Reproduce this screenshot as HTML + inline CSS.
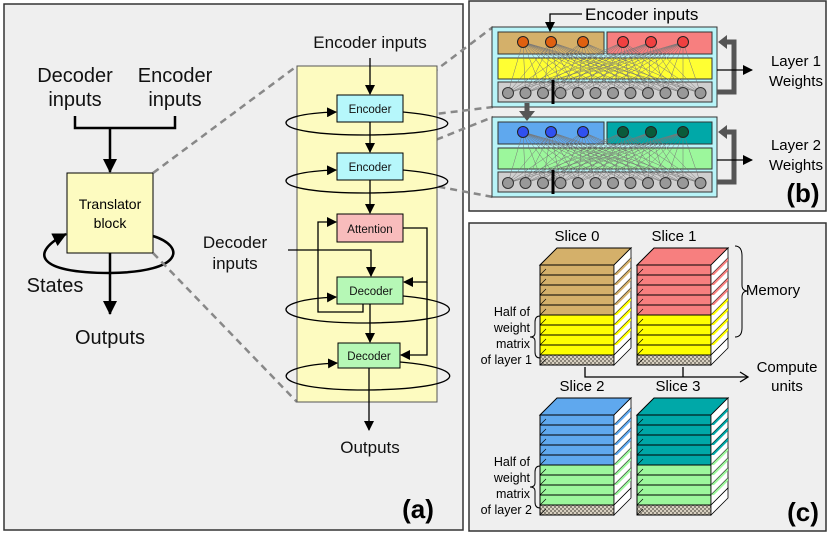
<!DOCTYPE html>
<html><head><meta charset="utf-8"><style>
body{margin:0;background:#fff;width:830px;height:534px;overflow:hidden}
svg{display:block;font-family:"Liberation Sans",sans-serif}
</style></head><body>
<svg id="s" width="830" height="534" viewBox="0 0 830 534">
<defs>
<marker id="a" markerWidth="10" markerHeight="10" refX="9" refY="5" orient="auto" markerUnits="userSpaceOnUse"><path d="M0,0 L10,5 L0,10 z" fill="#000"/></marker>
<marker id="ab" markerWidth="14" markerHeight="14" refX="13" refY="7" orient="auto" markerUnits="userSpaceOnUse"><path d="M0,0 L14,7 L0,14 z" fill="#000"/></marker>
<pattern id="h" width="4" height="4" patternUnits="userSpaceOnUse"><rect width="4" height="4" fill="#d8d0c0"/><rect width="2" height="2" fill="#8a8478"/><rect x="2" y="2" width="2" height="2" fill="#8a8478"/></pattern>
</defs>
<rect x="4" y="4" width="459" height="526" fill="#efefef" stroke="#333" stroke-width="1.5"/>
<rect x="469" y="1" width="357" height="210" fill="#efefef" stroke="#333" stroke-width="1.5"/>
<rect x="469" y="223" width="357" height="308" fill="#efefef" stroke="#333" stroke-width="1.5"/>

<g font-size="20" text-anchor="middle" fill="#111">
<text x="75" y="82">Decoder</text><text x="75" y="106">inputs</text>
<text x="175" y="82">Encoder</text><text x="175" y="106">inputs</text>
<text x="55" y="292">States</text>
<text x="110" y="344">Outputs</text>
</g>
<path d="M75,116 V128 H175 V116 M110,128 V172" fill="none" stroke="#000" stroke-width="2.5" marker-end="url(#ab)"/>
<path d="M153,236 C185,246 185,272 110,273 C35,273 30,252 66,234" fill="none" stroke="#000" stroke-width="2.5" marker-end="url(#ab)"/>
<rect x="67" y="173" width="86" height="80" fill="#fdfbc0" stroke="#000" stroke-width="1"/>
<text x="110" y="209" font-size="14" text-anchor="middle">Translator</text>
<text x="110" y="228" font-size="14" text-anchor="middle">block</text>
<path d="M110,253 V314" stroke="#000" stroke-width="2.5" marker-end="url(#ab)"/>
<g stroke="#888" stroke-width="2.5" stroke-dasharray="7,5" fill="none">
<path d="M153,173 L297,66 M153,253 L297,402"/>
<path d="M403,95 L493,27 M403,118 L493,107 M403,153 L493,117 M403,180 L493,197"/>
</g>

<rect x="297" y="66" width="140" height="336" fill="#fdfbc0" stroke="#555" stroke-width="1"/>
<g font-size="17" text-anchor="middle" fill="#111">
<text x="370" y="48">Encoder inputs</text>
<text x="235" y="248">Decoder</text><text x="235" y="269">inputs</text>
<text x="370" y="453">Outputs</text>
</g>
<g fill="none" stroke="#000" stroke-width="1.3" marker-end="url(#a)">
<path d="M403,112 C470,118 465,134 366,135 C265,135 265,114 336,112"/>
<path d="M403,170 C470,176 465,192 366,193 C265,193 265,172 336,170"/>
<path d="M403,296 C470,302 470,322 366,323 C265,323 265,300 336,297"/>
<path d="M400,362 C472,368 470,389 366,390 C265,390 265,366 337,363"/>
</g>
<g fill="none" stroke="#000" stroke-width="1.3" marker-end="url(#a)">
<path d="M370,58 V94"/><path d="M370,122 V152"/><path d="M370,180 V213"/>
<path d="M288,250 H371 V276"/><path d="M370,304 V342"/><path d="M369,368 V430"/>
<path d="M363,304 V312 H318 V222 H336"/>
<path d="M403,228 H427 V282 H404"/><path d="M427,282 V355 H401"/>
</g>
<g stroke="#000" stroke-width="1">
<rect x="337" y="95" width="66" height="27" fill="#b6f7fb"/>
<rect x="337" y="153" width="66" height="27" fill="#b6f7fb"/>
<rect x="337" y="214" width="66" height="28" fill="#f8bcbc"/>
<rect x="337" y="277" width="66" height="27" fill="#b6f8b6"/>
<rect x="338" y="343" width="62" height="25" fill="#b6f8b6"/>
</g>
<g font-size="11.5" text-anchor="middle" fill="#111">
<text x="370" y="113">Encoder</text><text x="370" y="171">Encoder</text>
<text x="370" y="233">Attention</text><text x="371" y="295">Decoder</text><text x="369" y="360">Decoder</text>
</g>
<text x="418" y="518" font-size="26" font-weight="bold" text-anchor="middle">(a)</text>

<g id="bnet"></g>
<text x="585" y="20" font-size="17">Encoder inputs</text>
<path d="M582,14 H550 V31" fill="none" stroke="#000" stroke-width="1.3" marker-end="url(#a)"/>
<g font-size="15" text-anchor="middle">
<text x="796" y="66">Layer 1</text><text x="796" y="86">Weights</text>
<text x="796" y="150">Layer 2</text><text x="796" y="170">Weights</text>
</g>
<text x="803" y="202" font-size="26" font-weight="bold" text-anchor="middle">(b)</text>

<g id="cst"></g>
<g font-size="15" text-anchor="middle">
<text x="577" y="241">Slice 0</text><text x="674" y="241">Slice 1</text>
<text x="582" y="391">Slice 2</text><text x="678" y="391">Slice 3</text>
<text x="773" y="295">Memory</text>
<text x="787" y="372">Compute</text><text x="787" y="391">units</text>
</g>
<g font-size="12.5" text-anchor="end">
<text x="530" y="316">Half of</text><text x="530" y="332">weight</text><text x="530" y="348">matrix</text><text x="532" y="364">of layer 1</text>
<text x="530" y="466">Half of</text><text x="530" y="482">weight</text><text x="530" y="498">matrix</text><text x="532" y="514">of layer 2</text>
</g>
<g fill="none" stroke="#000" stroke-width="1">
<path d="M735,246 Q742,246 742,256 V285 Q742,291 748,291 Q742,291 742,297 V328 Q742,337 735,337"/>
<path d="M540,316 Q535,316 535,322 V333 Q535,337 530,337 Q535,337 535,341 V352 Q535,358 540,358"/>
<path d="M540,466 Q535,466 535,472 V483 Q535,487 530,487 Q535,487 535,491 V502 Q535,508 540,508"/>
</g>
<path d="M585,367 V377 H748 M683,367 V377" fill="none" stroke="#000" stroke-width="1.3"/>
<path d="M740,372 L748,377 L740,382" fill="none" stroke="#000" stroke-width="1.3"/>
<text x="803" y="521" font-size="26" font-weight="bold" text-anchor="middle">(c)</text>
</svg>
<script>
var NS="http://www.w3.org/2000/svg";
function el(p,t,a){var e=document.createElementNS(NS,t);for(var k in a)e.setAttribute(k,a[k]);p.appendChild(e);return e;}
var b=document.getElementById("bnet");
function layer(y0,c1,c2,mid,dot1,dot2){
 el(b,"rect",{x:492,y:y0,width:225,height:80,fill:"#b8f4f8",stroke:"#333","stroke-width":1});
 el(b,"rect",{x:498,y:y0+5,width:106,height:22,fill:c1,stroke:"#333"});
 el(b,"rect",{x:607,y:y0+5,width:105,height:22,fill:c2,stroke:"#333"});
 el(b,"rect",{x:498,y:y0+31,width:214,height:21,fill:mid,stroke:"#333"});
 el(b,"rect",{x:498,y:y0+55,width:214,height:20,fill:"#cfcfcf",stroke:"#333"});
 var tx=[523,551,583,623,651,683],bx=[];
 for(var i=0;i<12;i++)bx.push(508+i*17.5);
 tx.forEach(function(x){bx.forEach(function(x2){el(b,"line",{x1:x,y1:y0+15,x2:x2,y2:y0+66,stroke:"#777","stroke-width":0.5});});});
 tx.forEach(function(x,i){el(b,"circle",{cx:x,cy:y0+15,r:5.5,fill:i<3?dot1:dot2,stroke:"#222"});});
 bx.forEach(function(x){el(b,"circle",{cx:x,cy:y0+66,r:5.5,fill:"#999",stroke:"#333"});});
 el(b,"line",{x1:553,y1:y0+53,x2:553,y2:y0+77,stroke:"#000","stroke-width":3});
 el(b,"path",{d:"M717,"+(y0+65)+" H734 V"+(y0+15)+" H726",fill:"none",stroke:"#555","stroke-width":5});
 el(b,"path",{d:"M718,"+(y0+15)+" L727,"+(y0+8)+" L727,"+(y0+22)+" z",fill:"#555"});
 el(b,"path",{d:"M717,"+(y0+43)+" H752",stroke:"#000","stroke-width":1.3,"marker-end":"url(#a)"});
}
layer(27,"#d4b06a","#f77f7f","#ffff33","#e06010","#f04040");
layer(117,"#5fa8ee","#00a8a8","#9cf79c","#3050f0","#0a5a3a");
el(b,"path",{d:"M527,103 V112",stroke:"#555","stroke-width":5});
el(b,"path",{d:"M519,111 L535,111 L527,121 z",fill:"#555"});
var c=document.getElementById("cst");
function stack(x,top,col,col2){
 var w=74,d=17,lh=10,n=10;
 el(c,"path",{d:"M"+x+","+top+" L"+(x+d)+","+(top-d)+" L"+(x+w+d)+","+(top-d)+" L"+(x+w)+","+top+" z",fill:col,stroke:"#000"});
 for(var i=0;i<n;i++){
  var y=top+i*lh, f=i==n-1?"url(#h)":(i<5?col:col2);
  el(c,"rect",{x:x,y:y,width:w,height:lh,fill:f,stroke:"#000","stroke-width":1});
  el(c,"path",{d:"M"+(x+w)+","+y+" L"+(x+w+d)+","+(y-d)+" V"+(y-d+lh)+" L"+(x+w)+","+(y+lh)+" z",fill:"#fff",stroke:"#000","stroke-width":0.8});
  el(c,"line",{x1:x,y1:y+lh,x2:x+6,y2:y+4,stroke:"#000","stroke-width":0.6});
  if(i<n-1&&i>0)el(c,"path",{d:"M"+(x+w)+","+y+" L"+(x+w+d)+","+(y-d)+" L"+(x+w+d)+","+(y-d+3)+" L"+(x+w+3)+","+(y)+" z",fill:f});
 }
}
stack(540,265,"#d4b06a","#ffff00");
stack(637,265,"#f77f7f","#ffff00");
stack(540,415,"#5fa8ee","#9cf79c");
stack(637,415,"#00a8a8","#9cf79c");
</script>
</body></html>
